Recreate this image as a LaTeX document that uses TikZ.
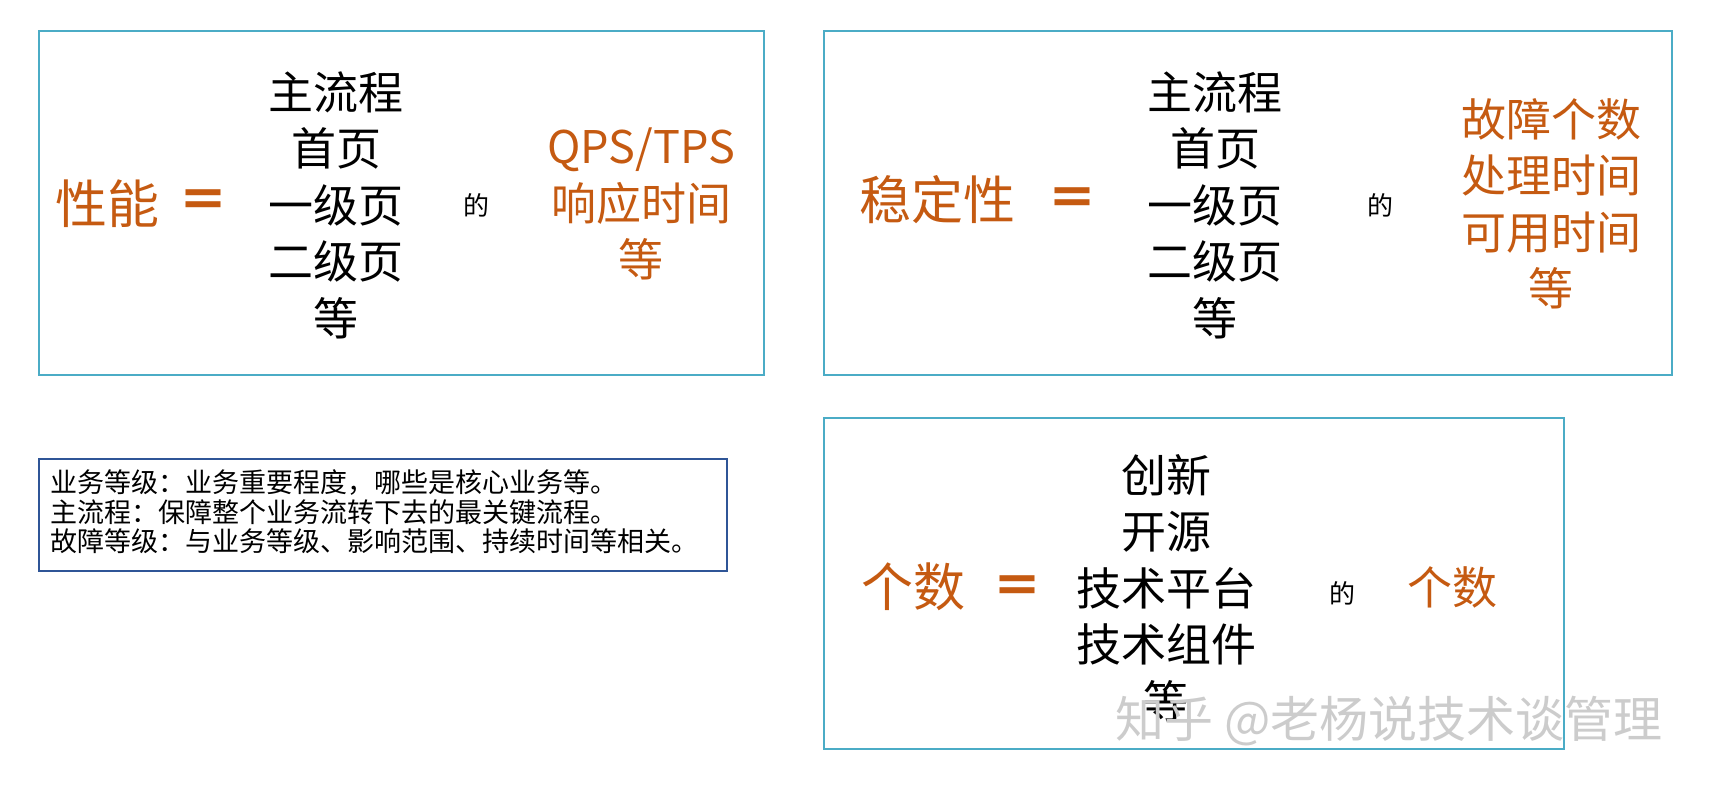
\documentclass[tikz,border=0pt]{standalone}
\usepackage{fontspec}
\setmainfont{Noto Sans CJK SC}
\definecolor{orangeT}{HTML}{C55A11}
\definecolor{cadreB}{HTML}{4BACC6}
\definecolor{cadreN}{HTML}{2F5597}
\tikzset{
  cadre/.style={draw=cadreB, line width=2.5pt},
  notebox/.style={draw=cadreN, line width=2pt},
  terme/.style={text=orangeT, font=\fontsize{52}{60}\selectfont, inner sep=0pt},
  egal/.style={text=orangeT, font=\fontsize{50}{56}\selectfont\bfseries, inner sep=0pt},
  liste/.style={align=center, font=\fontsize{45}{56.5}\selectfont, inner sep=0pt},
  res/.style={align=center, text=orangeT, font=\fontsize{45}{56.5}\selectfont, inner sep=0pt},
  de/.style={font=\fontsize{26}{30}\selectfont, inner sep=0pt}
}
\begin{document}
\begin{tikzpicture}[x=1pt, y=-1pt]
        \useasboundingbox (0,0) rectangle (1713,791);

        % Les trois cadres et la note
        \draw[cadre] (39,31) rectangle (764,375);
        \draw[cadre] (824,31) rectangle (1672,375);
        \draw[cadre] (824,418) rectangle (1564,749);
        \draw[notebox] (39,459) rectangle (727,571);

        % Performance
        \node[terme] (perf) at (107,204) {性能};
        \node[egal] (eq1) at (203,204) {＝};
        \node[liste] (pages1) at (336,205) {主流程\\首页\\一级页\\二级页\\等};
        \node[de] (de1) at (476,205) {的};
        \node[res] (mes1) at (641,204) {QPS/TPS\\响应时间\\等};

        % Stabilite
        \node[terme] (stab) at (937,200) {稳定性};
        \node[egal] (eq2) at (1072,202) {＝};
        \node[liste] (pages2) at (1215,205) {主流程\\首页\\一级页\\二级页\\等};
        \node[de] (de2) at (1380,205) {的};
        \node[res] (mes2) at (1551,204) {故障个数\\处理时间\\可用时间\\等};

        % Nombre
        \node[terme] (nb) at (913,587) {个数};
        \node[egal] (eq3) at (1017,590) {＝};
        \node[liste] (items) at (1166,588) {创新\\开源\\技术平台\\技术组件\\等};
        \node[de] (de3) at (1342,593) {的};
        \node[res] (mes3) at (1452,587) {个数};

        % Definitions
        \node[align=left, anchor=west, inner sep=0pt, font=\fontsize{27}{29.5}\selectfont] (defs) at (50,512)
          {业务等级：业务重要程度，哪些是核心业务等。\\主流程：保障整个业务流转下去的最关键流程。\\故障等级：与业务等级、影响范围、持续时间等相关。};

        % Filigrane
        \node[text=gray!40, font=\fontsize{49}{55}\selectfont, inner sep=0pt] (marque) at (1389,721) {知乎 @老杨说技术谈管理};
    \end{tikzpicture}
\end{document}
